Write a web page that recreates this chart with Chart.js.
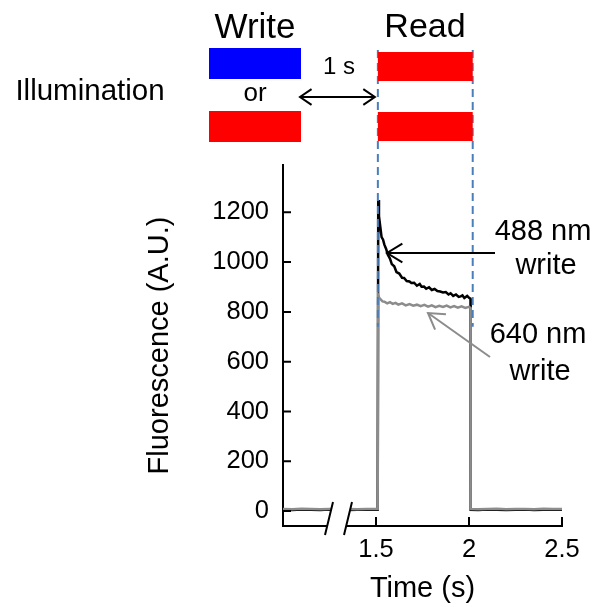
<!DOCTYPE html>
<html>
<head>
<meta charset="utf-8">
<script src="https://cdn.jsdelivr.net/npm/chart.js@4.4.1/dist/chart.umd.min.js"></script>
<style>
  html, body { margin: 0; padding: 0; background: #fff; }
  #wrap { width: 597px; height: 607px; }
</style>
</head>
<body>
<div id="wrap"><canvas id="myChart" width="597" height="607"></canvas></div>
<script>
// traces (time in s, fluorescence in A.U.)
const write488T = [1.0, 1.05, 1.1, 1.15, 1.2, 1.25, 1.3, 1.35, 1.4, 1.45, 1.509,
  1.512, 1.516, 1.523, 1.53, 1.538, 1.545, 1.555, 1.563, 1.575, 1.585, 1.598,
  1.61, 1.625, 1.64, 1.651, 1.665, 1.68, 1.69, 1.705, 1.72, 1.735, 1.745, 1.758,
  1.77, 1.785, 1.8, 1.815, 1.83, 1.845, 1.86, 1.875, 1.89, 1.901, 1.915, 1.93,
  1.945, 1.955, 1.965, 1.975, 1.99, 2.0, 2.008,
  2.009, 2.05, 2.1, 2.15, 2.2, 2.25, 2.3, 2.35, 2.4, 2.45, 2.5];
const write488F = [5, 4, 6, 5, 4, 6, 5, 4, 5, 6, 5,
  1249, 1185, 1142, 1100, 1090, 1070, 1052, 1030, 1014, 992, 983,
  960, 954, 937, 936, 924, 922, 916, 917, 905, 912, 901, 902,
  893, 899, 888, 892, 884, 882, 878, 880, 870, 875, 864, 870,
  860, 862, 866, 856, 864, 857, 853,
  5, 4, 6, 5, 4, 5, 6, 4, 5, 6, 5];

const write640T = [1.0, 1.05, 1.1, 1.15, 1.2, 1.25, 1.3, 1.35, 1.4, 1.45, 1.509,
  1.512, 1.518, 1.525, 1.535, 1.545, 1.56, 1.575, 1.59, 1.605, 1.62, 1.64, 1.66,
  1.68, 1.7, 1.72, 1.74, 1.76, 1.78, 1.8, 1.82, 1.84, 1.86, 1.88, 1.9, 1.92,
  1.94, 1.96, 1.98, 2.0, 2.008,
  2.009, 2.05, 2.1, 2.15, 2.2, 2.25, 2.3, 2.35, 2.4, 2.45, 2.5];
const write640F = [8, 7, 9, 8, 7, 8, 9, 8, 7, 8, 8,
  867, 856, 850, 842, 841, 834, 839, 832, 836, 829, 834, 826,
  831, 825, 829, 823, 828, 821, 826, 819, 824, 820, 825, 818, 823,
  817, 822, 816, 820, 816,
  8, 7, 8, 9, 7, 8, 8, 7, 9, 8, 8];

const xTicks = [1.5, 2, 2.5];
const yTicks = [0, 200, 400, 600, 800, 1000, 1200];
const readStart = 1.51;
const readEnd = 2.02;

const FONT = "'Liberation Sans', Arial, sans-serif";

const toPoints = (ts, fs) => ts.map((t, k) => ({ x: t, y: fs[k] }));

const arrowHead = (ctx, tx, ty, fx, fy, len, spread) => {
    const a = Math.atan2(fy - ty, fx - tx);
    ctx.beginPath();
    ctx.moveTo(tx + len * Math.cos(a + spread), ty + len * Math.sin(a + spread));
    ctx.lineTo(tx, ty);
    ctx.lineTo(tx + len * Math.cos(a - spread), ty + len * Math.sin(a - spread));
    ctx.stroke();
};

const arrow = (ctx, fx, fy, tx, ty, color) => {
    ctx.strokeStyle = color;
    ctx.lineWidth = 2;
    ctx.beginPath();
    ctx.moveTo(fx, fy);
    ctx.lineTo(tx, ty);
    ctx.stroke();
    arrowHead(ctx, tx, ty, fx, fy, 18, 0.55);
};

const text = (ctx, s, x, y, size, color) => {
    ctx.font = size + "px " + FONT;
    ctx.fillStyle = color || "#000";
    ctx.textAlign = "center";
    ctx.textBaseline = "middle";
    ctx.fillText(s, x, y);
};

const decorations = {
    id: "decorations",
    afterDatasetsDraw(chart) {
        const ctx = chart.ctx;
        const xs = chart.scales.x;
        const ys = chart.scales.y;
        const area = chart.chartArea;
        const x0 = xs.getPixelForValue(readStart);
        const x1 = xs.getPixelForValue(readEnd);
        ctx.save();

        // inward tick marks
        ctx.strokeStyle = "#000";
        ctx.lineWidth = 2;
        ctx.beginPath();
        yTicks.forEach(v => {
            const py = ys.getPixelForValue(v);
            ctx.moveTo(area.left, py);
            ctx.lineTo(area.left + 8, py);
        });
        xTicks.forEach(v => {
            const px = xs.getPixelForValue(v);
            ctx.moveTo(px, area.bottom);
            ctx.lineTo(px, area.bottom - 9);
        });
        ctx.stroke();

        // axis break
        ctx.fillStyle = "#fff";
        ctx.beginPath();
        ctx.moveTo(334, 500);
        ctx.lineTo(353, 500);
        ctx.lineTo(344, 537);
        ctx.lineTo(325, 537);
        ctx.closePath();
        ctx.fill();
        ctx.beginPath();
        ctx.moveTo(333, 502);
        ctx.lineTo(325, 535);
        ctx.moveTo(352, 502);
        ctx.lineTo(344, 535);
        ctx.stroke();

        // read window dashed lines
        ctx.strokeStyle = "#4a7ebb";
        ctx.lineWidth = 2;
        ctx.setLineDash([8, 5]);
        ctx.beginPath();
        ctx.moveTo(x0, 50);
        ctx.lineTo(x0, ys.getPixelForValue(740));
        ctx.moveTo(x1, 50);
        ctx.lineTo(x1, ys.getPixelForValue(740));
        ctx.stroke();
        ctx.setLineDash([]);

        // illumination bars
        ctx.fillStyle = "#0000ff";
        ctx.fillRect(209, 48, 92, 31);
        ctx.fillStyle = "#ff0000";
        ctx.fillRect(209, 111, 92, 31);
        ctx.fillRect(x0, 52, x1 - x0, 29);
        ctx.fillRect(x0, 112, x1 - x0, 29);

        text(ctx, "Write", 255, 28, 35);
        text(ctx, "Read", 425, 28, 34);
        text(ctx, "Illumination", 90, 92, 29.5);
        text(ctx, "or", 255, 94, 26);
        text(ctx, "1 s", 339, 67, 24);

        // 1 s double arrow
        ctx.strokeStyle = "#000";
        ctx.lineWidth = 2;
        ctx.beginPath();
        ctx.moveTo(300, 97);
        ctx.lineTo(x0 - 3, 97);
        ctx.stroke();
        arrowHead(ctx, 300, 97, 340, 97, 14, 0.6);
        arrowHead(ctx, x0 - 3, 97, 340, 97, 14, 0.6);

        // trace labels
        arrow(ctx, 495, 253, 387, 253, "#000");
        text(ctx, "488 nm", 543, 232, 29);
        text(ctx, "write", 546, 266, 29);
        arrow(ctx, 490, 357, 428, 313, "#8c8c8c");
        text(ctx, "640 nm", 538, 335, 29);
        text(ctx, "write", 540, 372, 29);

        ctx.restore();
    }
};

const ctx = document.getElementById("myChart").getContext("2d");
const myChart = new Chart(ctx, {
    type: "line",
    data: {
        datasets: [
            {
                label: "488 nm write",
                data: toPoints(write488T, write488F),
                borderColor: "#000",
                borderWidth: 2.5,
                pointRadius: 0,
                tension: 0,
                order: 1,
            },
            {
                label: "640 nm write",
                data: toPoints(write640T, write640F),
                borderColor: "#8c8c8c",
                borderWidth: 2.5,
                pointRadius: 0,
                tension: 0,
                order: 0,
            },
        ],
    },
    options: {
        responsive: false,
        animation: false,
        layout: { padding: { top: 165, right: 35, bottom: 1, left: 143 } },
        plugins: { legend: { display: false }, tooltip: { enabled: false } },
        scales: {
            x: {
                type: "linear",
                min: 1.0,
                max: 2.5,
                afterBuildTicks: (s) => { s.ticks = xTicks.map(v => ({ value: v })); },
                afterFit: (s) => { s.height = 80; },
                grid: { display: false, drawTicks: false },
                border: { display: true, color: "#000", width: 2 },
                ticks: { color: "#000", padding: 9, maxRotation: 0, callback: (v) => String(v), font: { family: FONT, size: 25.5 } },
                title: { display: true, text: "Time (s)", color: "#000", padding: 0, font: { family: FONT, size: 29 } },
            },
            y: {
                min: -60,
                max: 1390,
                afterBuildTicks: (s) => { s.ticks = yTicks.map(v => ({ value: v })); },
                afterFit: (s) => { s.width = 140; },
                grid: { display: false, drawTicks: false },
                border: { display: true, color: "#000", width: 2 },
                ticks: { color: "#000", padding: 14, callback: (v) => String(v), font: { family: FONT, size: 25.5 } },
                title: { display: true, text: "Fluorescence (A.U.)", color: "#000", padding: 0, font: { family: FONT, size: 29 } },
            },
        },
    },
    plugins: [decorations],
});
</script>
</body>
</html>
